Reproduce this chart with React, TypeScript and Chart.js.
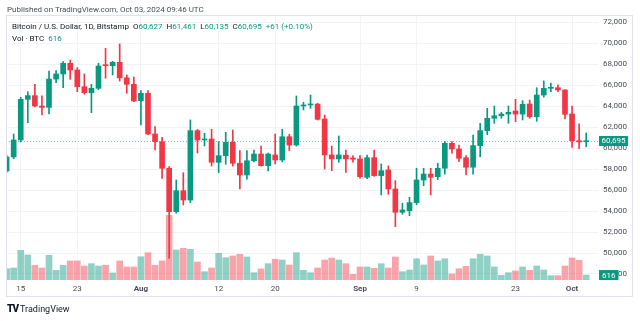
import React, { useEffect, useRef } from "react";
import { Chart, registerables } from "chart.js";

Chart.register(...registerables);

const dates = [
  "2024-07-13","2024-07-14","2024-07-15","2024-07-16","2024-07-17","2024-07-18","2024-07-19","2024-07-20","2024-07-21","2024-07-22",
  "2024-07-23","2024-07-24","2024-07-25","2024-07-26","2024-07-27","2024-07-28","2024-07-29","2024-07-30","2024-07-31",
  "2024-08-01","2024-08-02","2024-08-03","2024-08-04","2024-08-05","2024-08-06","2024-08-07","2024-08-08","2024-08-09","2024-08-10",
  "2024-08-11","2024-08-12","2024-08-13","2024-08-14","2024-08-15","2024-08-16","2024-08-17","2024-08-18","2024-08-19","2024-08-20",
  "2024-08-21","2024-08-22","2024-08-23","2024-08-24","2024-08-25","2024-08-26","2024-08-27","2024-08-28","2024-08-29","2024-08-30","2024-08-31",
  "2024-09-01","2024-09-02","2024-09-03","2024-09-04","2024-09-05","2024-09-06","2024-09-07","2024-09-08","2024-09-09","2024-09-10",
  "2024-09-11","2024-09-12","2024-09-13","2024-09-14","2024-09-15","2024-09-16","2024-09-17","2024-09-18","2024-09-19","2024-09-20",
  "2024-09-21","2024-09-22","2024-09-23","2024-09-24","2024-09-25","2024-09-26","2024-09-27","2024-09-28","2024-09-29","2024-09-30",
  "2024-10-01","2024-10-02","2024-10-03",
];

const opens = [
  57830, 59170, 60790, 64670, 65020, 64030, 63900, 66600, 67090, 68110,
  67470, 65870, 65300, 65720, 67950, 67880, 68200, 66720, 66100,
  64540, 65240, 61360, 60630, 58090, 53950, 55950, 55060, 61680, 60790,
  60880, 58660, 59290, 60570, 58570, 57450, 58810, 59450, 58340, 59360,
  58880, 61100, 60310, 64030, 64130, 64220, 62790, 59360, 58980, 59330, 59070,
  58980, 57230, 59100, 57390, 57930, 56110, 53890, 54040, 54810, 56970,
  57540, 57290, 58090, 60470, 59930, 59100, 58190, 60250, 61680, 62860,
  63100, 63260, 63560, 63260, 64220, 63010, 65080, 65720, 65780, 65560,
  63270, 60720, 60627,
];

const highs = [
  59350, 61360, 64860, 65400, 66100, 65000, 67370, 67400, 68260, 68420,
  67700, 67090, 66100, 68110, 69540, 68300, 69950, 67000, 66800,
  65500, 65500, 62060, 61050, 58250, 56970, 57670, 62700, 61800, 61430,
  61810, 60630, 61520, 61740, 59770, 59770, 59830, 60210, 59550, 61360,
  61810, 61330, 64990, 64390, 65080, 64290, 63170, 60210, 61170, 59830, 59290,
  59290, 59350, 59830, 58500, 58310, 56910, 54750, 55320, 58090, 58090,
  58090, 58570, 60630, 60630, 60300, 59300, 61260, 62380, 63810, 64030,
  63420, 64030, 64670, 64540, 64600, 65780, 66420, 66230, 66040, 65600,
  64030, 62320, 61461,
];

const lows = [
  57700, 59000, 60600, 62440, 63950, 63170, 63270, 66250, 65780, 66580,
  65400, 65150, 63400, 65600, 66680, 67000, 66400, 65240, 64450,
  62220, 61300, 59830, 57130, 49500, 53800, 54590, 54800, 59550, 60220,
  58300, 57670, 58470, 58300, 56110, 57040, 58700, 58280, 57830, 58500,
  58700, 59770, 60200, 63650, 63810, 62700, 58020, 57860, 58660, 57700, 58660,
  57150, 57100, 57300, 55540, 55610, 52520, 53700, 53570, 54600, 56430,
  55540, 57000, 57520, 59520, 58730, 57450, 57520, 59190, 61300, 62380,
  62860, 62380, 62540, 62700, 62860, 62570, 64880, 65400, 65400, 62790,
  60090, 59960, 60135,
];

const closes = [
  59170, 60790, 64670, 65020, 64030, 63900, 66600, 67090, 68110, 67470,
  65870, 65300, 65720, 67850, 67880, 68200, 66720, 66100, 64510,
  65240, 61360, 60630, 58090, 53950, 55950, 55060, 61680, 60790, 60880,
  58660, 59290, 60570, 58570, 57450, 58810, 59450, 58340, 59450, 58880,
  61100, 60310, 64030, 64130, 64220, 62760, 59360, 58980, 59360, 58980, 58950,
  57290, 59100, 57390, 57860, 56110, 53890, 54110, 54810, 56970, 57540,
  57230, 58090, 60470, 59930, 59040, 58190, 60250, 61680, 62860, 63100,
  63260, 63430, 63260, 64190, 63010, 65080, 65720, 65800, 65560, 63240,
  60720, 60600, 60695,
];

const volumes = [
  1410, 1500, 3710, 3130, 1840, 1500, 3090, 1210, 1840, 2380,
  2380, 1750, 2040, 1750, 1840, 880, 2380, 1630, 1630,
  2910, 3410, 1840, 2380, 8090, 3750, 3960, 3840, 2250, 1040,
  1500, 3340, 2790, 3000, 3210, 2880, 910, 1380, 2040, 2590,
  2500, 1880, 3410, 1210, 910, 1500, 2500, 2750, 2500, 2040, 710,
  1630, 1630, 1460, 2040, 1500, 2880, 1040, 1250, 2660, 1880,
  3000, 2380, 2660, 750, 1410, 1710, 2660, 3210, 3000, 1630,
  590, 910, 1130, 1630, 1210, 1750, 1250, 540, 540, 1750,
  2750, 2460, 616,
];

const xTickDates = ["2024-07-15", "2024-07-23", "2024-08-01", "2024-08-12", "2024-08-20", "2024-09-01", "2024-09-09", "2024-09-23", "2024-10-01"];
const xTickLabels = ["15", "23", "Aug", "12", "20", "Sep", "9", "23", "Oct"];
const monthLabels = ["Aug", "Sep", "Oct"];
const priceTicks = [48000, 50000, 52000, 54000, 56000, 58000, 60000, 62000, 64000, 66000, 68000, 70000, 72000];

const UP = "#089981";
const DOWN = "#f23645";
const UP_VOL = "rgba(8,153,129,0.45)";
const DOWN_VOL = "rgba(242,54,69,0.45)";
const FONT = "Roboto, 'DejaVu Sans', sans-serif";
const TEXT = "#4a4d57";

const fmt = (v: number) => v.toLocaleString("en-US");

export default function App() {
  const ref = useRef<HTMLCanvasElement | null>(null);

  useEffect(() => {
    if (!ref.current) return;
    const isUp = (i: number) => closes[i] >= opens[i];
    const tickIdx = xTickDates.map((d) => dates.indexOf(d));
    const last = closes.length - 1;

    const overlay = {
      id: "overlay",
      beforeDatasetsDraw(chart: any) {
        const { ctx, chartArea: a, scales } = chart;
        const y = Math.round(scales.y.getPixelForValue(closes[last])) + 0.5;
        ctx.save();
        ctx.strokeStyle = "rgba(8,153,129,0.55)";
        ctx.lineWidth = 1;
        ctx.setLineDash([1, 2]);
        ctx.beginPath();
        ctx.moveTo(a.left, y);
        ctx.lineTo(a.right, y);
        ctx.stroke();
        ctx.restore();
      },
      afterDraw(chart: any) {
        const { ctx, chartArea: a, scales } = chart;
        ctx.save();
        ctx.strokeStyle = "#e0e3eb";
        ctx.lineWidth = 1;
        ctx.strokeRect(6.5, 15.5, 626, 281);
        ctx.font = `8px ${FONT}`;
        ctx.textBaseline = "middle";
        const py = scales.y.getPixelForValue(closes[last]);
        const pText = fmt(closes[last]);
        const pw = ctx.measureText(pText).width + 5;
        ctx.fillStyle = UP;
        ctx.fillRect(a.right + 1, py - 5, pw, 10);
        ctx.fillStyle = "#ffffff";
        ctx.fillText(pText, a.right + 3.5, py + 0.5);
        const vy = scales.yv.getPixelForValue(volumes[last]);
        const vText = fmt(volumes[last]);
        const vw = ctx.measureText(vText).width + 6;
        ctx.fillStyle = UP;
        ctx.fillRect(a.right + 1, vy - 5, vw, 10);
        ctx.fillStyle = "#ffffff";
        ctx.fillText(vText, a.right + 4, vy + 0.5);
        ctx.restore();
      },
    };

    const chart = new Chart(ref.current, {
      type: "bar",
      data: {
        datasets: [
          {
            label: "Body",
            data: dates.map((_, i) => ({ x: i, y: [opens[i], closes[i]] })) as any,
            backgroundColor: dates.map((_, i) => (isUp(i) ? UP : DOWN)),
            barThickness: 5,
            minBarLength: 1,
            grouped: false,
            borderWidth: 0,
            yAxisID: "y",
            order: 1,
            clip: 0,
          } as any,
          {
            label: "Wick",
            data: dates.map((_, i) => ({ x: i, y: [lows[i], highs[i]] })) as any,
            backgroundColor: dates.map((_, i) => (isUp(i) ? UP : DOWN)),
            barThickness: 1,
            grouped: false,
            borderWidth: 0,
            yAxisID: "y",
            order: 2,
            clip: 0,
          } as any,
          {
            label: "Volume",
            data: dates.map((_, i) => ({ x: i, y: volumes[i] })) as any,
            backgroundColor: dates.map((_, i) => (isUp(i) ? UP_VOL : DOWN_VOL)),
            barThickness: 6,
            grouped: false,
            borderWidth: 0,
            yAxisID: "yv",
            order: 3,
            clip: 0,
          } as any,
        ],
      },
      options: {
        animation: false,
        responsive: false,
        devicePixelRatio: 1,
        events: [],
        layout: { padding: { top: 16, left: 6, right: 0, bottom: 0 } },
        plugins: { legend: { display: false }, tooltip: { enabled: false } },
        scales: {
          x: {
            type: "linear",
            offset: false,
            min: -0.085,
            max: 83.67,
            afterBuildTicks: (s: any) => {
              s.ticks = tickIdx.map((v) => ({ value: v }));
            },
            afterFit: (s: any) => {
              s.height = 41;
            },
            grid: { color: "#f2f3f6", drawTicks: false, offset: false },
            border: { display: false },
            ticks: {
              padding: 4,
              autoSkip: false,
              maxRotation: 0,
              color: TEXT,
              callback: (_v: any, i: number) => xTickLabels[i],
              font: (c: any) => ({
                family: FONT,
                size: 8,
                weight: monthLabels.includes(xTickLabels[c.index]) ? "bold" : "normal",
              }),
            },
          } as any,
          y: {
            type: "linear",
            position: "right",
            min: 47427,
            max: 72620,
            afterBuildTicks: (s: any) => {
              s.ticks = priceTicks.map((v) => ({ value: v }));
            },
            afterFit: (s: any) => {
              s.width = 42;
            },
            grid: { color: "#f2f3f6", drawTicks: false },
            border: { display: false },
            ticks: {
              padding: 5,
              color: TEXT,
              font: { family: FONT, size: 8 },
              callback: (v: any) => fmt(Number(v)),
            },
          } as any,
          yv: {
            type: "linear",
            display: false,
            min: 0,
            max: 33000,
          } as any,
        },
      },
      plugins: [overlay],
    });
    return () => chart.destroy();
  }, []);

  const t: React.CSSProperties = { fontFamily: FONT, fontSize: 8, lineHeight: "10px", whiteSpace: "pre", position: "absolute" };
  const g: React.CSSProperties = { color: UP };

  return (
    <div style={{ position: "fixed", left: 0, top: 0, width: 640, height: 321, background: "#ffffff", overflow: "hidden" }}>
      <canvas ref={ref} width={640} height={321} style={{ position: "absolute", left: 0, top: 0, width: 640, height: 321 }} />
      <div style={{ ...t, left: 7, top: 5, color: "#4a4d57" }}>Published on TradingView.com, Oct 03, 2024 09:46 UTC</div>
      <div style={{ ...t, left: 12, top: 22, color: "#131722" }}>
        {"Bitcoin / U.S. Dollar, 1D, Bitstamp  O"}
        <span style={g}>{fmt(opens[opens.length - 1])}</span>
        {"  H"}
        <span style={g}>{fmt(highs[highs.length - 1])}</span>
        {"  L"}
        <span style={g}>{fmt(lows[lows.length - 1])}</span>
        {"  C"}
        <span style={g}>{fmt(closes[closes.length - 1])}</span>
        <span style={g}>{"  +61 (+0.10%)"}</span>
      </div>
      <div style={{ ...t, left: 12, top: 34, color: "#131722" }}>
        {"Vol · BTC  "}
        <span style={g}>{fmt(volumes[volumes.length - 1])}</span>
      </div>
      <div style={{ ...t, left: 7, top: 304, color: "#131722", fontSize: 9 }}>
        <span style={{ fontWeight: 900, letterSpacing: -1, fontSize: 10 }}>TV</span>
        {" TradingView"}
      </div>
    </div>
  );
}
